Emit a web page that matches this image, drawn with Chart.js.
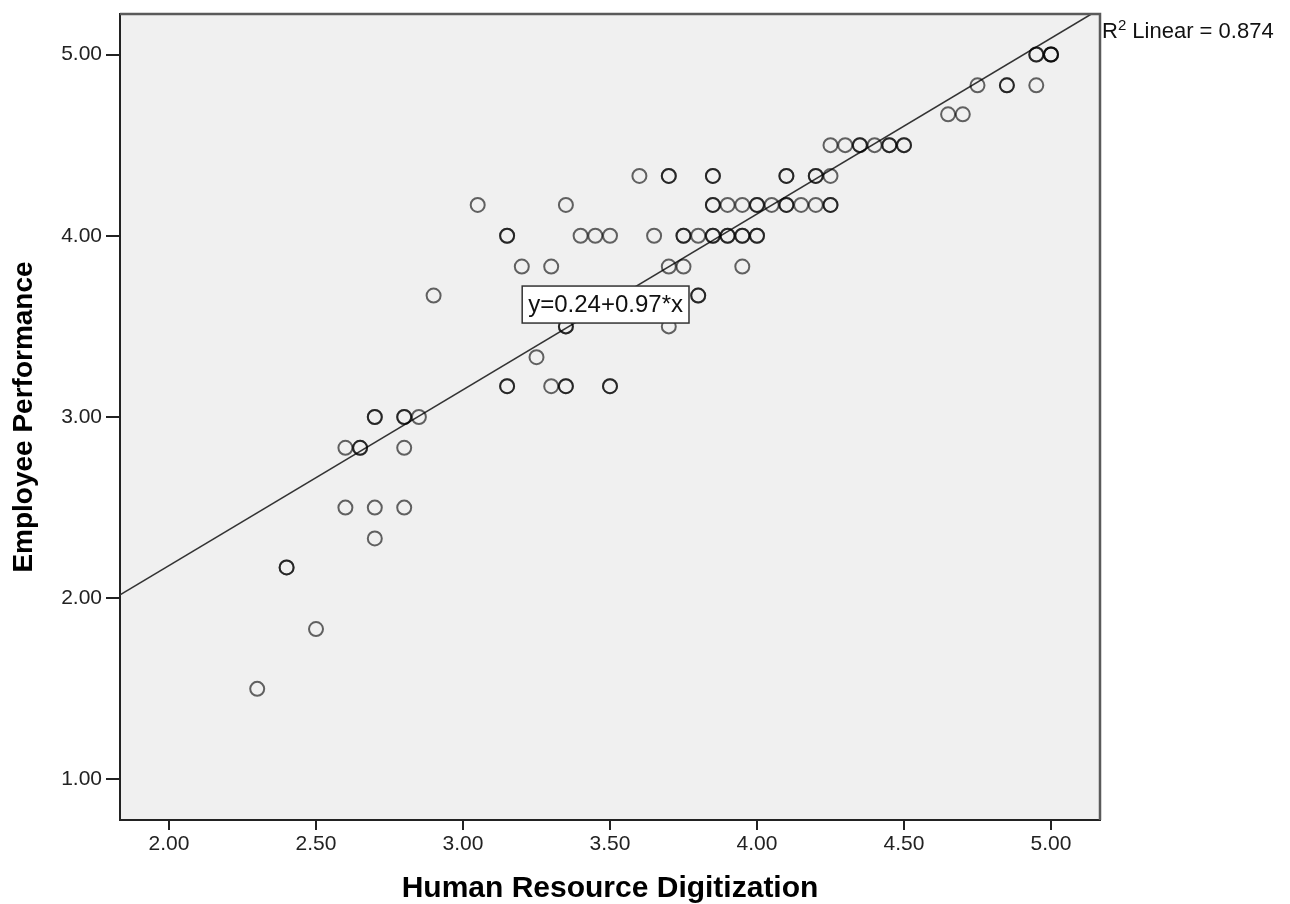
<!DOCTYPE html>
<html>
<head>
<meta charset="utf-8">
<script src="https://cdn.jsdelivr.net/npm/chart.js@4/dist/chart.umd.min.js"></script>
<style>
  html, body { margin: 0; padding: 0; background: #ffffff; }
  #wrap { width: 1290px; height: 904px; position: relative; }
</style>
</head>
<body>
<div id="wrap"><canvas id="c" width="1290" height="904"></canvas></div>
<script>
// ---- data ----
const xAxisTitle = 'Human Resource Digitization';
const yAxisTitle = 'Employee Performance';
const xTickValues = [2.00, 2.50, 3.00, 3.50, 4.00, 4.50, 5.00];
const yTickValues = [1.00, 2.00, 3.00, 4.00, 5.00];

const digitization = [
  2.30,
  2.50,
  2.40, 2.40,
  2.70,
  2.60, 2.70, 2.80,
  2.60, 2.65, 2.65, 2.80,
  2.70, 2.70, 2.80, 2.80, 2.85,
  3.15, 3.15, 3.30, 3.35, 3.35, 3.50, 3.50,
  3.25,
  3.35, 3.35, 3.70,
  2.90, 3.80, 3.80,
  3.20, 3.30, 3.70, 3.75, 3.95,
  3.15, 3.15, 3.40, 3.45, 3.50, 3.65, 3.75, 3.75, 3.80, 3.85, 3.85, 3.90, 3.90, 3.95, 3.95, 4.00, 4.00,
  3.05, 3.35, 3.85, 3.85, 3.90, 3.95, 4.00, 4.00, 4.05, 4.10, 4.10, 4.15, 4.20, 4.25, 4.25,
  3.60, 3.70, 3.70, 3.85, 3.85, 4.10, 4.10, 4.20, 4.20, 4.25,
  4.25, 4.30, 4.35, 4.35, 4.40, 4.45, 4.45, 4.50, 4.50,
  4.65, 4.70,
  4.75, 4.85, 4.85, 4.95,
  4.95, 4.95, 5.00, 5.00, 5.00
];
const performance = [
  1.50,
  1.83,
  2.17, 2.17,
  2.33,
  2.50, 2.50, 2.50,
  2.83, 2.83, 2.83, 2.83,
  3.00, 3.00, 3.00, 3.00, 3.00,
  3.17, 3.17, 3.17, 3.17, 3.17, 3.17, 3.17,
  3.33,
  3.50, 3.50, 3.50,
  3.67, 3.67, 3.67,
  3.83, 3.83, 3.83, 3.83, 3.83,
  4.00, 4.00, 4.00, 4.00, 4.00, 4.00, 4.00, 4.00, 4.00, 4.00, 4.00, 4.00, 4.00, 4.00, 4.00, 4.00, 4.00,
  4.17, 4.17, 4.17, 4.17, 4.17, 4.17, 4.17, 4.17, 4.17, 4.17, 4.17, 4.17, 4.17, 4.17, 4.17,
  4.33, 4.33, 4.33, 4.33, 4.33, 4.33, 4.33, 4.33, 4.33, 4.33,
  4.50, 4.50, 4.50, 4.50, 4.50, 4.50, 4.50, 4.50, 4.50,
  4.67, 4.67,
  4.83, 4.83, 4.83, 4.83,
  5.00, 5.00, 5.00, 5.00, 5.00
];

const fitIntercept = 0.24;
const fitSlope = 0.97;
const rSquared = 0.874;
const equationAtX = 3.485;   // x where the equation label sits on the fit line

// ---- build chart ----
const FONT = '"Liberation Sans", Arial, Helvetica, sans-serif';
const X_MIN = 1.8333, X_MAX = 5.1667, Y_MIN = 0.7765, Y_MAX = 5.2235;

const scatterPoints = digitization.map((x, i) => ({ x: x, y: performance[i] }));
const fitLine = [X_MIN, X_MAX].map(x => ({ x: x, y: fitIntercept + fitSlope * x }));

const framePlugin = {
  id: 'frame',
  beforeDraw(chart) {
    const { ctx, chartArea: a } = chart;
    ctx.save();
    ctx.fillStyle = '#f0f0f0';
    ctx.fillRect(a.left, a.top, a.right - a.left, a.bottom - a.top);
    ctx.restore();
  },
  afterDraw(chart) {
    const { ctx, chartArea: a } = chart;
    ctx.save();
    ctx.lineWidth = 2.5;
    ctx.strokeStyle = '#5a5a5a';
    ctx.beginPath();
    ctx.moveTo(a.left, a.top);
    ctx.lineTo(a.right, a.top);
    ctx.lineTo(a.right, a.bottom);
    ctx.stroke();

    // R² label
    ctx.fillStyle = '#111';
    ctx.textBaseline = 'alphabetic';
    ctx.textAlign = 'left';
    let x = a.right + 2;
    const base = a.top + 24;
    ctx.font = '22px ' + FONT;
    ctx.fillText('R', x, base);
    x += ctx.measureText('R').width;
    ctx.font = '15px ' + FONT;
    ctx.fillText('2', x, base - 8);
    x += ctx.measureText('2').width;
    ctx.font = '22px ' + FONT;
    ctx.fillText(' Linear = ' + rSquared.toFixed(3), x, base);
    ctx.restore();
  },
  afterDatasetsDraw(chart) {
    const { ctx } = chart;
    const xs = chart.scales.x, ys = chart.scales.y;
    const px = xs.getPixelForValue(equationAtX);
    const py = ys.getPixelForValue(fitIntercept + fitSlope * equationAtX);
    const label = 'y=' + fitIntercept.toFixed(2) + '+' + fitSlope.toFixed(2) + '*x';
    ctx.save();
    ctx.font = '24px ' + FONT;
    const w = ctx.measureText(label).width + 12;
    const h = 37;
    ctx.fillStyle = '#ffffff';
    ctx.fillRect(px - w / 2, py - h / 2, w, h);
    ctx.lineWidth = 1.5;
    ctx.strokeStyle = '#333';
    ctx.strokeRect(px - w / 2, py - h / 2, w, h);
    ctx.fillStyle = '#111';
    ctx.textAlign = 'center';
    ctx.textBaseline = 'middle';
    ctx.fillText(label, px, py + 1);
    ctx.restore();
  }
};

new Chart(document.getElementById('c'), {
  type: 'scatter',
  data: {
    datasets: [
      {
        type: 'line',
        data: fitLine,
        borderColor: '#333',
        borderWidth: 1.6,
        pointRadius: 0,
        fill: false,
        order: 2
      },
      {
        type: 'scatter',
        data: scatterPoints,
        pointStyle: 'circle',
        pointRadius: 7,
        pointBorderWidth: 2,
        borderColor: 'rgba(0,0,0,0.6)',
        backgroundColor: 'rgba(0,0,0,0)',
        pointBackgroundColor: 'rgba(0,0,0,0)',
        order: 1
      }
    ]
  },
  options: {
    responsive: false,
    animation: false,
    events: [],
    layout: { padding: { left: 0, right: 190, top: 14, bottom: 0 } },
    plugins: { legend: { display: false }, tooltip: { enabled: false } },
    scales: {
      x: {
        type: 'linear',
        position: 'bottom',
        min: X_MIN,
        max: X_MAX,
        afterBuildTicks(scale) { scale.ticks = xTickValues.map(v => ({ value: v })); },
        afterFit(scale) { scale.height = 84; scale.paddingLeft = 0; scale.paddingRight = 0; },
        ticks: {
          color: '#222',
          font: { family: FONT, size: 21 },
          padding: 2,
          maxRotation: 0,
          callback: v => Number(v).toFixed(2)
        },
        grid: { drawOnChartArea: false, drawTicks: true, tickLength: 10, color: '#222', lineWidth: 2 },
        border: { display: true, color: '#222', width: 2 },
        title: {
          display: true,
          text: xAxisTitle,
          color: '#000',
          font: { family: FONT, size: 30, weight: 'bold', lineHeight: 1 },
          padding: { top: 0, bottom: 0 }
        }
      },
      y: {
        type: 'linear',
        position: 'left',
        min: Y_MIN,
        max: Y_MAX,
        afterBuildTicks(scale) { scale.ticks = yTickValues.map(v => ({ value: v })); },
        afterFit(scale) { scale.width = 120; scale.paddingTop = 0; scale.paddingBottom = 0; },
        ticks: {
          color: '#222',
          font: { family: FONT, size: 21 },
          padding: 4,
          callback: v => Number(v).toFixed(2)
        },
        grid: { drawOnChartArea: false, drawTicks: true, tickLength: 14, color: '#222', lineWidth: 2 },
        border: { display: true, color: '#222', width: 2 },
        title: {
          display: true,
          text: yAxisTitle,
          color: '#000',
          font: { family: FONT, size: 28, weight: 'bold', lineHeight: 1.2 },
          padding: { top: 7, bottom: 0 }
        }
      }
    }
  },
  plugins: [framePlugin]
});
</script>
</body>
</html>
